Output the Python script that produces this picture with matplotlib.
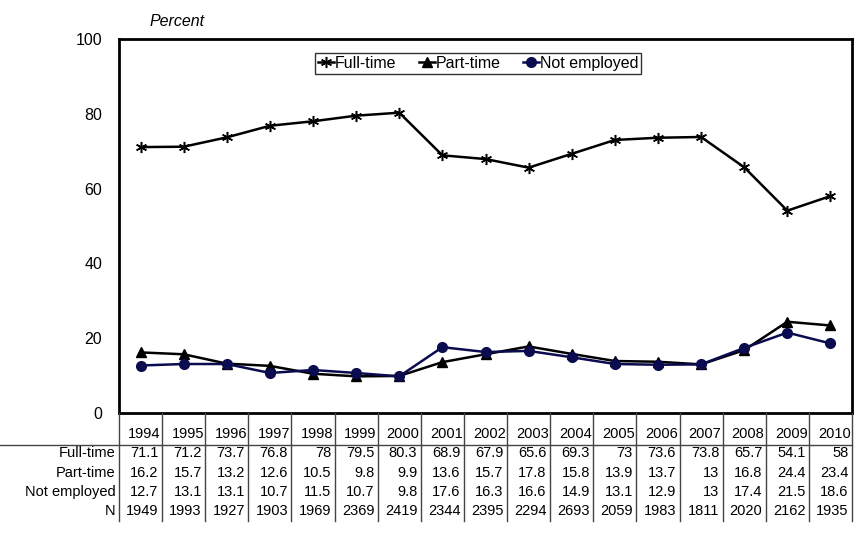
import matplotlib
matplotlib.use("Agg")
import matplotlib.pyplot as plt

# ── Data ─────────────────────────────────────────────
years = ["1994", "1995", "1996", "1997", "1998", "1999", "2000", "2001", "2002",
         "2003", "2004", "2005", "2006", "2007", "2008", "2009", "2010"]
full_time = [71.1, 71.2, 73.7, 76.8, 78, 79.5, 80.3, 68.9, 67.9, 65.6, 69.3,
             73, 73.6, 73.8, 65.7, 54.1, 58]
part_time = [16.2, 15.7, 13.2, 12.6, 10.5, 9.8, 9.9, 13.6, 15.7, 17.8, 15.8,
             13.9, 13.7, 13, 16.8, 24.4, 23.4]
not_employed = [12.7, 13.1, 13.1, 10.7, 11.5, 10.7, 9.8, 17.6, 16.3, 16.6, 14.9,
                13.1, 12.9, 13, 17.4, 21.5, 18.6]
n_total = [1949, 1993, 1927, 1903, 1969, 2369, 2419, 2344, 2395, 2294, 2693,
           2059, 1983, 1811, 2020, 2162, 1935]
row_labels = ["Full-time", "Part-time", "Not employed", "N"]

plt.rcParams["font.family"] = ["Liberation Sans", "DejaVu Sans"]

W, H = 867, 536
fig = plt.figure(figsize=(W / 100, H / 100), dpi=100)

# pixel geometry of the plot frame
x0, x1 = 119, 852
y0, y1 = 39, 413
ax = fig.add_axes([x0 / W, 1 - y1 / H, (x1 - x0) / W, (y1 - y0) / H])

xs = list(range(len(years)))
navy = "#0b0b4f"
ax.plot(xs, full_time, color="black", lw=1.8, marker=(6, 2, 0), ms=8,
        mew=1.1, label="Full-time")
ax.plot(xs, part_time, color="black", lw=1.8, marker="^", ms=7.5,
        label="Part-time")
ax.plot(xs, not_employed, color=navy, lw=1.8, marker="o", ms=7,
        mfc=navy, mec=navy, label="Not employed")

ax.set_xlim(-0.5, len(years) - 0.5)
ax.set_ylim(0, 100)
ax.set_yticks([0, 20, 40, 60, 80, 100])
ax.tick_params(axis="y", length=0, pad=12, labelsize=11.5)
ax.set_xticks([])
for s in ax.spines.values():
    s.set_linewidth(2)
    s.set_color("black")

leg = ax.legend(loc="upper center", ncol=3, frameon=True, fancybox=False,
                edgecolor="black", fontsize=11.5, handlelength=1.0,
                handletextpad=0.05, columnspacing=1.4, borderpad=0.2,
                bbox_to_anchor=(0.49, 0.985))
leg.get_frame().set_linewidth(1.0)

fig.text(150 / W, 1 - 22 / H, "Percent", style="italic", fontsize=11.5,
         ha="left", va="center")

# ── Data table below the plot ────────────────────────
tax = fig.add_axes([x0 / W, 0, (x1 - x0) / W, (H - y1) / H])
tax.set_xlim(-0.5, len(years) - 0.5)
row_h = 19.3
top_r = (y1 - 434) / row_h
bot_r = (H - 434) / row_h
tax.set_ylim(bot_r, top_r)
tax.axis("off")

line_col = "#444444"
fs = 10.5
for i, y in enumerate(years):
    tax.text(i + 0.47, 0, y, ha="right", va="center", fontsize=fs)
rows = [full_time, part_time, not_employed, n_total]
for r, vals in enumerate(rows, start=1):
    for i, v in enumerate(vals):
        tax.text(i + 0.42, r, f"{v:g}", ha="right", va="center", fontsize=fs)
    tax.text(-0.58, r, row_labels[r - 1], ha="right", va="center",
             fontsize=fs, clip_on=False)

table_bottom = 4.5
for i in range(len(years) + 1):
    tax.plot([i - 0.5, i - 0.5], [top_r, table_bottom], color=line_col,
             lw=1, clip_on=False)
tax.plot([-0.5 - x0 / ((x1 - x0) / len(years)), len(years) - 0.5],
         [0.55, 0.55], color=line_col, lw=1, clip_on=False)

fig.savefig("out.png", dpi=100)
